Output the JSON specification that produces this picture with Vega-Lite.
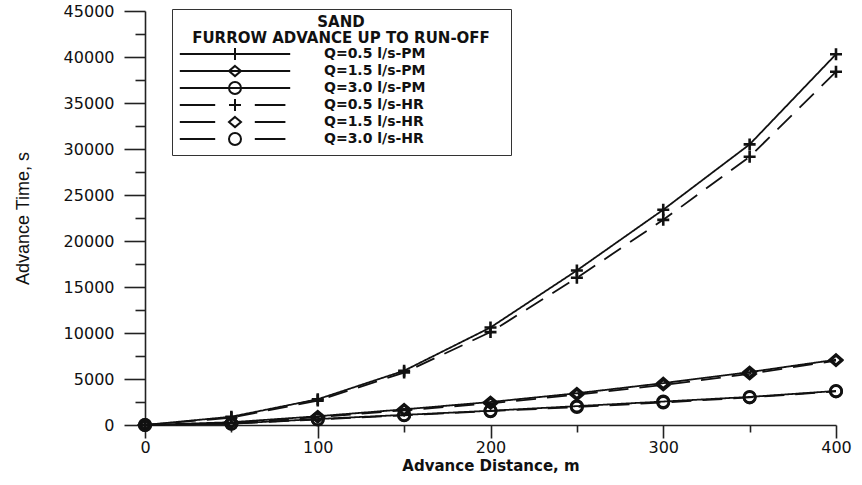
{
  "$schema": "https://vega.github.io/schema/vega-lite/v6.json",
  "width": 691,
  "height": 414,
  "autosize": "none",
  "padding": {"left": 145, "top": 11, "right": 26, "bottom": 49},
  "background": "white",
  "config": {
    "view": {"stroke": null},
    "axis": {
      "domainColor": "#222",
      "domainWidth": 1.6,
      "tickColor": "#222",
      "tickWidth": 1.6,
      "grid": false,
      "labelColor": "#111",
      "labelFont": "DejaVu Sans",
      "labelFontSize": 16,
      "titleColor": "#111"
    }
  },
  "data": {
    "values": [
      {"distance": 0, "time": 0, "series": "Q=0.5 l/s-PM", "method": "PM"},
      {"distance": 50, "time": 900, "series": "Q=0.5 l/s-PM", "method": "PM"},
      {"distance": 100, "time": 2800, "series": "Q=0.5 l/s-PM", "method": "PM"},
      {"distance": 150, "time": 5900, "series": "Q=0.5 l/s-PM", "method": "PM"},
      {"distance": 200, "time": 10600, "series": "Q=0.5 l/s-PM", "method": "PM"},
      {"distance": 250, "time": 16800, "series": "Q=0.5 l/s-PM", "method": "PM"},
      {"distance": 300, "time": 23400, "series": "Q=0.5 l/s-PM", "method": "PM"},
      {"distance": 350, "time": 30500, "series": "Q=0.5 l/s-PM", "method": "PM"},
      {"distance": 400, "time": 40300, "series": "Q=0.5 l/s-PM", "method": "PM"},
      {"distance": 0, "time": 0, "series": "Q=1.5 l/s-PM", "method": "PM"},
      {"distance": 50, "time": 300, "series": "Q=1.5 l/s-PM", "method": "PM"},
      {"distance": 100, "time": 950, "series": "Q=1.5 l/s-PM", "method": "PM"},
      {"distance": 150, "time": 1700, "series": "Q=1.5 l/s-PM", "method": "PM"},
      {"distance": 200, "time": 2500, "series": "Q=1.5 l/s-PM", "method": "PM"},
      {"distance": 250, "time": 3450, "series": "Q=1.5 l/s-PM", "method": "PM"},
      {"distance": 300, "time": 4550, "series": "Q=1.5 l/s-PM", "method": "PM"},
      {"distance": 350, "time": 5750, "series": "Q=1.5 l/s-PM", "method": "PM"},
      {"distance": 400, "time": 7100, "series": "Q=1.5 l/s-PM", "method": "PM"},
      {"distance": 0, "time": 0, "series": "Q=3.0 l/s-PM", "method": "PM"},
      {"distance": 50, "time": 150, "series": "Q=3.0 l/s-PM", "method": "PM"},
      {"distance": 100, "time": 650, "series": "Q=3.0 l/s-PM", "method": "PM"},
      {"distance": 150, "time": 1100, "series": "Q=3.0 l/s-PM", "method": "PM"},
      {"distance": 200, "time": 1550, "series": "Q=3.0 l/s-PM", "method": "PM"},
      {"distance": 250, "time": 2050, "series": "Q=3.0 l/s-PM", "method": "PM"},
      {"distance": 300, "time": 2550, "series": "Q=3.0 l/s-PM", "method": "PM"},
      {"distance": 350, "time": 3050, "series": "Q=3.0 l/s-PM", "method": "PM"},
      {"distance": 400, "time": 3700, "series": "Q=3.0 l/s-PM", "method": "PM"},
      {"distance": 0, "time": 0, "series": "Q=0.5 l/s-HR", "method": "HR"},
      {"distance": 50, "time": 800, "series": "Q=0.5 l/s-HR", "method": "HR"},
      {"distance": 100, "time": 2650, "series": "Q=0.5 l/s-HR", "method": "HR"},
      {"distance": 150, "time": 5700, "series": "Q=0.5 l/s-HR", "method": "HR"},
      {"distance": 200, "time": 10100, "series": "Q=0.5 l/s-HR", "method": "HR"},
      {"distance": 250, "time": 16000, "series": "Q=0.5 l/s-HR", "method": "HR"},
      {"distance": 300, "time": 22300, "series": "Q=0.5 l/s-HR", "method": "HR"},
      {"distance": 350, "time": 29150, "series": "Q=0.5 l/s-HR", "method": "HR"},
      {"distance": 400, "time": 38400, "series": "Q=0.5 l/s-HR", "method": "HR"},
      {"distance": 0, "time": 0, "series": "Q=1.5 l/s-HR", "method": "HR"},
      {"distance": 50, "time": 250, "series": "Q=1.5 l/s-HR", "method": "HR"},
      {"distance": 100, "time": 850, "series": "Q=1.5 l/s-HR", "method": "HR"},
      {"distance": 150, "time": 1600, "series": "Q=1.5 l/s-HR", "method": "HR"},
      {"distance": 200, "time": 2350, "series": "Q=1.5 l/s-HR", "method": "HR"},
      {"distance": 250, "time": 3300, "series": "Q=1.5 l/s-HR", "method": "HR"},
      {"distance": 300, "time": 4350, "series": "Q=1.5 l/s-HR", "method": "HR"},
      {"distance": 350, "time": 5550, "series": "Q=1.5 l/s-HR", "method": "HR"},
      {"distance": 400, "time": 7000, "series": "Q=1.5 l/s-HR", "method": "HR"},
      {"distance": 0, "time": 0, "series": "Q=3.0 l/s-HR", "method": "HR"},
      {"distance": 50, "time": 130, "series": "Q=3.0 l/s-HR", "method": "HR"},
      {"distance": 100, "time": 600, "series": "Q=3.0 l/s-HR", "method": "HR"},
      {"distance": 150, "time": 1050, "series": "Q=3.0 l/s-HR", "method": "HR"},
      {"distance": 200, "time": 1500, "series": "Q=3.0 l/s-HR", "method": "HR"},
      {"distance": 250, "time": 1950, "series": "Q=3.0 l/s-HR", "method": "HR"},
      {"distance": 300, "time": 2450, "series": "Q=3.0 l/s-HR", "method": "HR"},
      {"distance": 350, "time": 3000, "series": "Q=3.0 l/s-HR", "method": "HR"},
      {"distance": 400, "time": 3650, "series": "Q=3.0 l/s-HR", "method": "HR"}
    ]
  },
  "encoding": {
    "x": {
      "field": "distance",
      "type": "quantitative",
      "scale": {"domain": [0, 400], "nice": false, "zero": false},
      "axis": {
        "values": [0, 50, 100, 150, 200, 250, 300, 350, 400],
        "labelExpr": "datum.value % 100 === 0 ? datum.label : ''",
        "tickSize": {"condition": {"test": "datum.value % 100 === 0", "value": 13}, "value": 7},
        "labelPadding": 1,
        "labelFlush": false,
        "labelOverlap": false,
        "title": "Advance Distance, m",
        "titleFont": "DejaVu Sans",
        "titleFontSize": 15,
        "titleFontWeight": "bold",
        "titlePadding": 3
      }
    },
    "y": {
      "field": "time",
      "type": "quantitative",
      "scale": {"domain": [0, 45000], "nice": false},
      "axis": {
        "values": [0, 2500, 5000, 7500, 10000, 12500, 15000, 17500, 20000, 22500, 25000, 27500, 30000, 32500, 35000, 37500, 40000, 42500, 45000],
        "labelExpr": "datum.value % 5000 === 0 ? replace(datum.label, ',', '') : ''",
        "tickSize": {"condition": {"test": "datum.value % 5000 === 0", "value": 21}, "value": 10},
        "labelPadding": 10,
        "labelFlush": false,
        "labelOverlap": false,
        "title": "Advance Time, s",
        "titleFont": "Liberation Sans",
        "titleFontSize": 18,
        "titleFontWeight": "normal",
        "titlePadding": 31
      }
    }
  },
  "layer": [
    {
      "mark": {"type": "line", "color": "#111", "strokeWidth": 1.8},
      "encoding": {
        "detail": {"field": "series"},
        "strokeDash": {
          "field": "method",
          "type": "nominal",
          "scale": {"domain": ["PM", "HR"], "range": [[1, 0], [20, 11]]},
          "legend": null
        }
      }
    },
    {
      "mark": {"type": "point", "filled": false, "color": "#111", "strokeWidth": 2.6, "size": 144, "opacity": 1},
      "encoding": {
        "shape": {
          "field": "series",
          "type": "nominal",
          "scale": {
            "domain": ["Q=0.5 l/s-PM", "Q=1.5 l/s-PM", "Q=3.0 l/s-PM", "Q=0.5 l/s-HR", "Q=1.5 l/s-HR", "Q=3.0 l/s-HR"],
            "range": [
              "M-1,0H1M0,-1V1",
              "M0,-0.85L1,0L0,0.85L-1,0Z",
              "M0.95,0A0.95,0.95,0,1,1,-0.95,0A0.95,0.95,0,1,1,0.95,0Z",
              "M-1,0H1M0,-1V1",
              "M0,-0.85L1,0L0,0.85L-1,0Z",
              "M0.95,0A0.95,0.95,0,1,1,-0.95,0A0.95,0.95,0,1,1,0.95,0Z"
            ]
          },
          "legend": null
        }
      }
    },
    {
      "transform": [{"filter": "datum.distance < 0"}],
      "mark": {"type": "point", "filled": false, "color": "#111", "strokeWidth": 2, "size": 144},
      "encoding": {
        "shape": {
          "field": "series",
          "type": "nominal",
          "scale": {
            "domain": ["Q=0.5 l/s-PM", "Q=1.5 l/s-PM", "Q=3.0 l/s-PM", "Q=0.5 l/s-HR", "Q=1.5 l/s-HR", "Q=3.0 l/s-HR"],
            "range": [
              "M-9.6,0M44.3,0M-9.2,0H9.2M0,-1V1",
              "M-9.6,0M44.3,0M-9.2,0H9.2M0,-0.85L1,0L0,0.85L-1,0Z",
              "M-9.6,0M44.3,0M-9.2,0H9.2M1,0A1,1,0,1,1,-1,0A1,1,0,1,1,1,0Z",
              "M-9.6,0M44.3,0M-9.2,0H-3.3M3.3,0H8.4M-1,0H1M0,-1V1",
              "M-9.6,0M44.3,0M-9.2,0H-3.3M3.3,0H8.4M0,-0.85L1,0L0,0.85L-1,0Z",
              "M-9.6,0M44.3,0M-9.2,0H-3.3M3.3,0H8.4M1,0A1,1,0,1,1,-1,0A1,1,0,1,1,1,0Z"
            ]
          },
          "legend": {
            "orient": "none",
            "legendX": 27,
            "legendY": -2,
            "title": ["SAND", "FURROW ADVANCE UP TO RUN-OFF"],
            "titleFont": "DejaVu Sans",
            "titleFontSize": 15,
            "titleFontWeight": "bold",
            "titleColor": "#111",
            "titleAnchor": "middle",
            "titleAlign": "center",
            "titleLineHeight": 16,
            "titlePadding": 1,
            "titleLimit": 500,
            "labelFont": "DejaVu Sans",
            "labelFontSize": 14,
            "labelFontWeight": "bold",
            "labelColor": "#111",
            "labelLimit": 400,
            "labelOffset": 82,
            "symbolOffset": 50,
            "symbolSize": 144,
            "symbolStrokeWidth": 2,
            "symbolStrokeColor": "#111",
            "symbolFillColor": "transparent",
            "symbolOpacity": 1,
            "rowPadding": -8,
            "padding": 6,
            "strokeColor": "#333",
            "fillColor": "white"
          }
        }
      }
    }
  ],
  "resolve": {"scale": {"shape": "independent"}}
}
